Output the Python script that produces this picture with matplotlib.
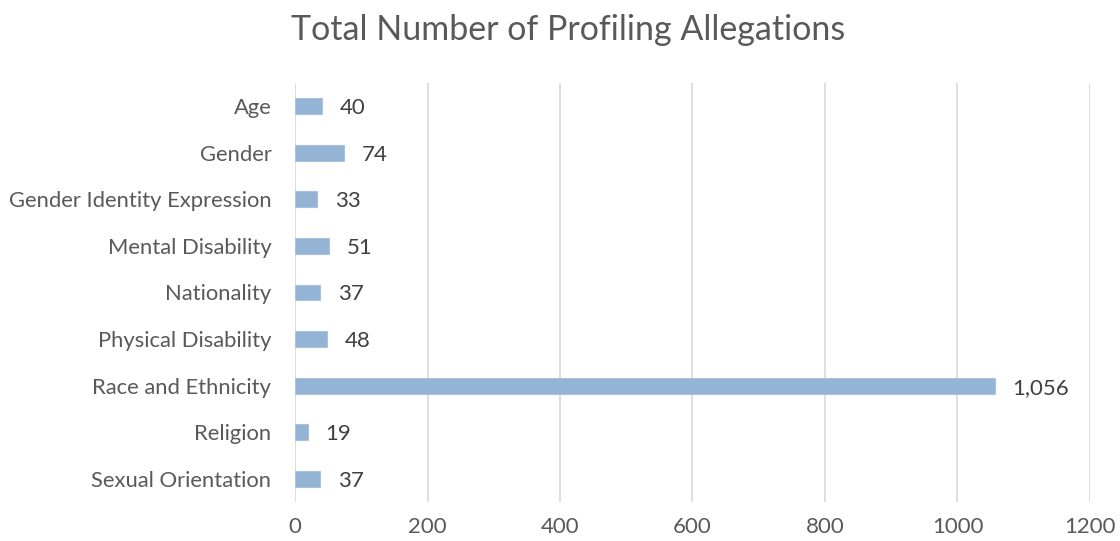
import matplotlib
matplotlib.use("Agg")
import matplotlib.pyplot as plt

categories = ["Age", "Gender", "Gender Identity Expression", "Mental Disability",
              "Nationality", "Physical Disability", "Race and Ethnicity",
              "Religion", "Sexual Orientation"]
values = [40, 74, 33, 51, 37, 48, 1056, 19, 37]
xticks = [0, 200, 400, 600, 800, 1000, 1200]

plt.rcParams['font.family'] = ['Lato', 'DejaVu Sans']
txt = '#595959'

fig = plt.figure(figsize=(11.2, 5.41), dpi=100)
ax = fig.add_axes([0.2634, 0.0721, 0.9732 - 0.2634, 0.8466 - 0.0721])

ypos = list(range(len(categories)))
ax.barh(ypos, values, height=0.34, color='#94B4D5', edgecolor='#A9C3DE', linewidth=0.8, zorder=3)
ax.set_ylim(len(categories) - 0.5, -0.5)
ax.set_xlim(0, 1200)
ax.set_xticks(xticks)
ax.set_xticklabels([str(t) for t in xticks], fontsize=16, color=txt)
ax.set_yticks(ypos)
ax.set_yticklabels(categories, fontsize=15.8, color=txt, va='center_baseline')
ax.tick_params(axis='both', length=0)
ax.tick_params(axis='x', pad=11)
ax.tick_params(axis='y', pad=17)
ax.grid(axis='x', color='#D9D9D9', linewidth=1.2, zorder=0)
for s in ax.spines.values():
    s.set_visible(False)

for y, v in zip(ypos, values):
    ax.annotate(f"{v:,}", (v, y), xytext=(13, 0), textcoords='offset points',
                va='center_baseline', ha='left', fontsize=16, color='#404040')

fig.text(0.507, 0.945, "Total Number of Profiling Allegations", ha='center', va='center',
         fontsize=24.5, color=txt)

fig.savefig("out.png", dpi=100)
